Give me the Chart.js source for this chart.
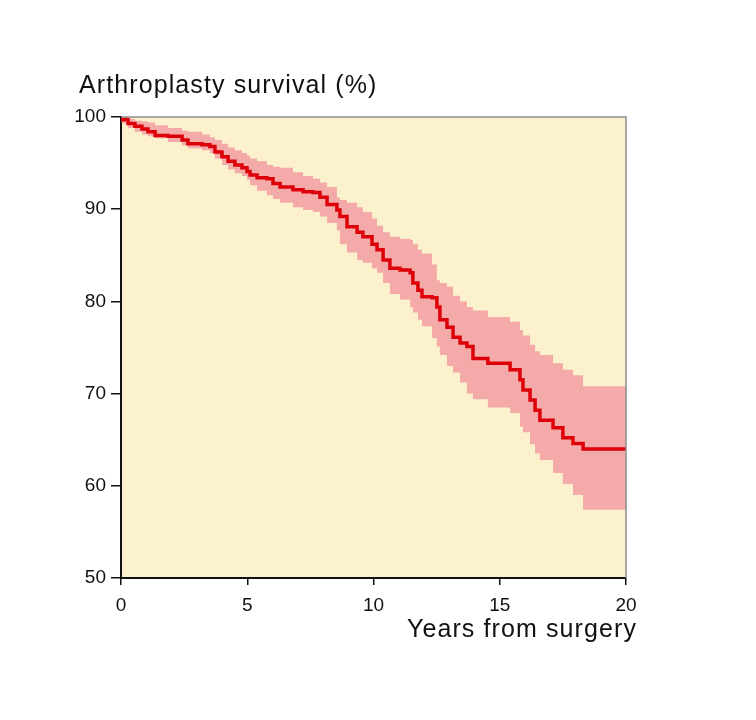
<!DOCTYPE html>
<html>
<head>
<meta charset="utf-8">
<script src="https://cdn.jsdelivr.net/npm/chart.js@4"></script>
<style>
  body { margin: 0; background: #ffffff; }
  #wrap { width: 756px; height: 720px; }
</style>
</head>
<body>
<div id="wrap"><canvas id="chart" width="756" height="720"></canvas></div>
<script>
// Kaplan-Meier estimate with 95% CI (years, %)
const years = [0, 0.03, 0.28, 0.55, 0.83, 1.07, 1.35, 1.86, 2.42, 2.65, 3.21, 3.52, 3.72, 4.0, 4.24, 4.51, 4.79, 4.99,
  5.11, 5.39, 5.78, 6.02, 6.3, 6.81, 7.21, 7.6, 7.88, 8.16, 8.55, 8.67, 8.95, 9.35, 9.58, 9.94,
  10.14, 10.38, 10.65, 11.05, 11.45, 11.56, 11.76, 11.92, 12.32, 12.51, 12.63, 12.91, 13.15, 13.43, 13.7, 13.94,
  14.53, 15.41, 15.8, 15.92, 16.2, 16.4, 16.59, 17.11, 17.5, 17.9, 18.3, 20];
const survival = [100, 99.7, 99.3, 99.0, 98.7, 98.4, 98.0, 97.9, 97.5, 97.1, 97.0, 96.8, 96.2, 95.7, 95.2, 94.8, 94.5, 94.1,
  93.7, 93.4, 93.3, 92.8, 92.4, 92.1, 91.9, 91.8, 91.3, 90.5, 89.9, 89.2, 88.1, 87.5, 87.0, 86.2,
  85.6, 84.5, 83.6, 83.4, 83.1, 82.0, 81.2, 80.5, 80.4, 79.4, 78.0, 77.2, 76.1, 75.5, 75.1, 73.8,
  73.3, 72.6, 71.5, 70.4, 69.3, 68.2, 67.1, 66.3, 65.2, 64.6, 64.0, 64.0];
const upperCI = [100, 100, 99.8, 99.6, 99.5, 99.4, 99.1, 98.8, 98.5, 98.4, 98.1, 97.8, 97.5, 97.1, 96.7, 96.4, 96.1, 95.8,
  95.5, 95.2, 94.8, 94.6, 94.5, 94.0, 93.6, 93.3, 92.9, 92.4, 91.3, 91.0, 90.7, 90.2, 89.7, 89.0,
  88.2, 87.5, 87.0, 86.8, 86.7, 86.2, 85.6, 85.2, 84.0, 82.3, 82.0, 81.6, 80.6, 80.0, 79.4, 79.0,
  78.3, 77.8, 76.9, 76.3, 75.3, 74.6, 74.2, 73.3, 72.6, 72.0, 70.8, 70.8];
const lowerCI = [100, 99.3, 98.8, 98.4, 98.1, 97.9, 97.7, 97.3, 96.9, 96.6, 96.4, 96.1, 95.5, 94.8, 94.3, 93.9, 93.6, 93.2,
  92.6, 92.0, 91.5, 91.1, 90.7, 90.2, 89.9, 89.7, 89.2, 88.5, 87.7, 86.2, 85.3, 84.5, 84.2, 83.6,
  83.1, 82.0, 80.8, 80.2, 79.4, 78.8, 78.0, 77.3, 76.0, 75.1, 74.2, 73.0, 72.3, 71.2, 70.0, 69.4,
  68.5, 67.9, 66.4, 65.8, 64.5, 63.5, 62.8, 61.4, 60.2, 59.0, 57.4, 57.4];
const xTicks = [0, 5, 10, 15, 20];
const yTicks = [50, 60, 70, 80, 90, 100];

const toPoints = vals => vals.map((v, i) => ({ x: years[i], y: v }));

const FONT = '"Liberation Sans", Arial, Helvetica, sans-serif';

// cream plot background, grey frame on top/right, and the two axis titles
const decor = {
  id: 'decor',
  beforeDraw(chart) {
    const { ctx, chartArea: a } = chart;
    ctx.save();
    ctx.fillStyle = '#fbf1cd';
    ctx.fillRect(a.left, a.top, a.right - a.left, a.bottom - a.top);
    ctx.restore();
  },
  afterDraw(chart) {
    const { ctx, chartArea: a } = chart;
    ctx.save();
    ctx.strokeStyle = '#8c8c8c';
    ctx.lineWidth = 1.5;
    ctx.beginPath();
    ctx.moveTo(a.left, a.top);
    ctx.lineTo(a.right, a.top);
    ctx.lineTo(a.right, a.bottom);
    ctx.stroke();
    ctx.fillStyle = '#111';
    ctx.font = '25px ' + FONT;
    ctx.letterSpacing = '1.1px';
    ctx.textBaseline = 'alphabetic';
    ctx.textAlign = 'left';
    ctx.fillText('Arthroplasty survival (%)', 79, 93);
    ctx.textAlign = 'right';
    ctx.fillText('Years from surgery', 637, 637);
    ctx.restore();
  }
};

const chart = document.getElementById('chart').getContext('2d');
new Chart(chart, {
  type: 'line',
  data: {
    datasets: [
      {
        label: 'Survival',
        data: toPoints(survival),
        stepped: true,
        borderColor: '#dd0008',
        borderWidth: 3.5,
        pointRadius: 0,
        fill: false
      },
      {
        label: 'Upper 95% CI',
        data: toPoints(upperCI),
        stepped: true,
        borderColor: 'rgba(0,0,0,0)',
        borderWidth: 0,
        pointRadius: 0,
        fill: false
      },
      {
        label: 'Lower 95% CI',
        data: toPoints(lowerCI),
        stepped: true,
        borderColor: 'rgba(0,0,0,0)',
        borderWidth: 0,
        pointRadius: 0,
        backgroundColor: '#f4aaa8',
        fill: 1
      }
    ]
  },
  options: {
    responsive: false,
    animation: false,
    layout: { padding: { left: 0, top: 117, right: 130, bottom: 102 } },
    scales: {
      x: {
        type: 'linear',
        min: 0,
        max: 20,
        afterBuildTicks: axis => { axis.ticks = xTicks.map(v => ({ value: v })); },
        afterFit: axis => { axis.height = 40; },
        ticks: { color: '#111', font: { size: 19, family: FONT }, padding: 9, maxRotation: 0 },
        grid: { drawOnChartArea: false, drawTicks: true, tickLength: 7, color: '#111', lineWidth: 1.5 },
        border: { color: '#111', width: 2 }
      },
      y: {
        min: 50,
        max: 100,
        afterBuildTicks: axis => { axis.ticks = yTicks.map(v => ({ value: v })); },
        afterFit: axis => { axis.width = 121; },
        ticks: { color: '#111', font: { size: 19, family: FONT }, padding: 5 },
        grid: { drawOnChartArea: false, drawTicks: true, tickLength: 10, color: '#111', lineWidth: 1.5 },
        border: { color: '#111', width: 2 }
      }
    },
    plugins: {
      legend: { display: false },
      tooltip: { enabled: false },
      filler: { propagate: false }
    }
  },
  plugins: [decor]
});
</script>
</body>
</html>
